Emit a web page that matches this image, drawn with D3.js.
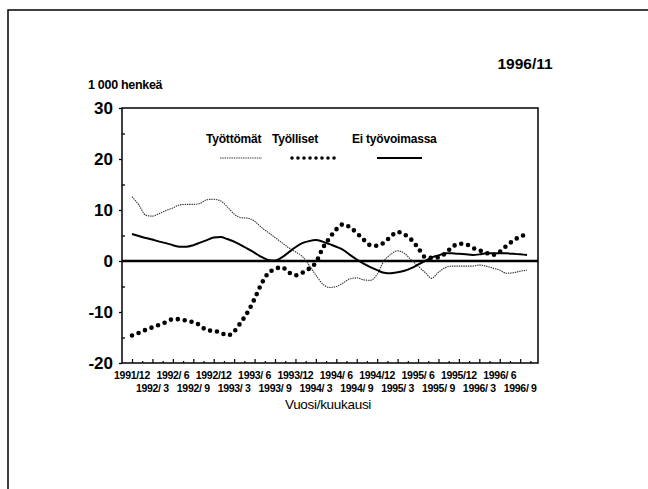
<!DOCTYPE html>
<html>
<head>
<meta charset="utf-8">
<script src="https://cdn.jsdelivr.net/npm/d3@7"></script>
<style>
  html, body { margin: 0; padding: 0; background: #fff; }
  svg { display: block; font-family: "Liberation Sans", Arial, sans-serif; }
</style>
</head>
<body>
<svg id="chart" width="648" height="489"></svg>
<script>
/* Työvoima: muutos vuoden takaisesta, 1 000 henkeä, kuukausittain 1991/12 -> */

const tickLabels = [
  '1991/12','1992/ 3','1992/ 6','1992/ 9','1992/12','1993/ 3','1993/ 6','1993/ 9','1993/12','1994/ 3',
  '1994/ 6','1994/ 9','1994/12','1995/ 3','1995/ 6','1995/ 9','1995/12','1996/ 3','1996/ 6','1996/ 9'
];
const yTicks = [30, 20, 10, 0, -10, -20];

const tyottomat = [
  12.6, 11.0, 9.0, 8.8, 9.3, 9.9, 10.4, 11.0, 11.1, 11.1,
  11.3, 12.0, 12.1, 11.8, 10.6, 9.2, 8.5, 8.4, 7.8, 6.6,
  5.6, 4.6, 3.6, 2.6, 1.8, 0.9, -0.8, -2.8, -4.5, -5.2,
  -5.0, -4.3, -3.5, -3.3, -3.7, -3.8, -2.6, 0.0, 1.3, 2.0,
  1.5, 0.2, -1.0, -2.2, -3.4, -2.2, -1.3, -1.0, -1.0, -1.0,
  -1.0, -0.8, -1.0, -1.4, -1.8, -2.4, -2.3, -2.0, -1.8
];
const tyolliset = [
  -14.6, -14.1, -13.5, -13.0, -12.5, -12.0, -11.4, -11.4, -11.7, -12.0,
  -12.6, -13.6, -13.7, -14.0, -14.6, -13.8, -12.0, -10.0, -7.4, -4.5,
  -2.4, -1.6, -1.2, -2.2, -2.8, -2.3, -1.5, -0.3, 2.5, 4.5,
  6.2, 7.2, 6.6, 5.5, 4.2, 3.1, 3.0, 3.6, 4.8, 5.7,
  5.2, 4.2, 2.6, 0.8, 0.6, 0.7, 1.5, 2.7, 3.4, 3.3,
  2.6, 2.1, 1.6, 1.2, 1.8, 3.0, 4.0, 4.8, 5.2
];
const eiTyovoimassa = [
  5.3, 4.9, 4.5, 4.2, 3.8, 3.5, 3.1, 2.8, 2.8, 3.1,
  3.6, 4.1, 4.6, 4.7, 4.3, 3.8, 3.1, 2.4, 1.6, 0.8,
  0.2, 0.1, 0.7, 1.7, 2.7, 3.5, 3.9, 4.1, 3.8, 3.3,
  2.8, 2.2, 1.2, 0.3, -0.5, -1.2, -1.8, -2.3, -2.4, -2.2,
  -1.9, -1.4, -0.7, 0.0, 0.7, 1.1, 1.5, 1.5, 1.4, 1.3,
  1.2, 1.3, 1.5, 1.5, 1.5, 1.5, 1.4, 1.3, 1.2
];

const series = [
  { name: 'Työttömät',      values: tyottomat,     stroke: '#333', width: 1.1, dash: '1.4,0.9', cap: 'butt' },
  { name: 'Työlliset',      values: tyolliset,     stroke: '#000', width: 4.6, dash: '0,7',     cap: 'round' },
  { name: 'Ei työvoimassa', values: eiTyovoimassa, stroke: '#000', width: 2,   dash: null,      cap: 'butt' }
];

const svg = d3.select('#chart');
const P = { left: 122, right: 538, top: 108, bottom: 363 };

// outer frame of the scanned page (right / bottom edges fall outside the picture)
svg.append('path')
  .attr('d', 'M8,489 L8,10 L648,10')
  .attr('fill', 'none').attr('stroke', '#000').attr('stroke-width', 1.5);

const x = d3.scaleLinear().domain([0, 58]).range([132, 527]);
const y = d3.scaleLinear().domain([-20, 30]).range([P.bottom, P.top]);

// ── y axis: major ticks out, minor ticks in ──
const yAxis = svg.append('g').attr('transform', `translate(${P.left},0)`)
  .call(d3.axisLeft(y).tickValues(yTicks).tickSize(3).tickPadding(6).tickFormat(d => String(d)));
yAxis.select('.domain').remove();
yAxis.selectAll('text')
  .attr('font-size', 17).attr('font-weight', 'bold').attr('fill', '#000')
  .attr('font-family', '"Liberation Sans", Arial, sans-serif');
yAxis.selectAll('line').attr('stroke-width', 1.3);

svg.append('g').attr('transform', `translate(${P.left},0)`)
  .call(d3.axisLeft(y).tickValues(d3.range(-15, 30, 10)).tickSize(-3).tickFormat(''))
  .call(g => g.select('.domain').remove())
  .selectAll('line').attr('stroke-width', 1.3);

// ── x axis: ticks pointing up into the plot ──
const xAxis = svg.append('g').attr('transform', `translate(0,${P.bottom})`)
  .call(d3.axisBottom(x).tickValues(d3.range(0, 59, 1.5)).tickSize(-4).tickFormat(''));
xAxis.select('.domain').remove();
xAxis.selectAll('.tick line')
  .attr('y2', d => (d % 3 === 0 ? -4 : -2))
  .attr('stroke-width', 1.2);

svg.append('g').selectAll('text').data(tickLabels).join('text')
  .attr('x', (d, i) => x(i * 3))
  .attr('y', (d, i) => (i % 2 === 0 ? 379 : 392))
  .attr('text-anchor', 'middle')
  .attr('font-size', 10.5).attr('font-weight', 'bold')
  .attr('letter-spacing', -0.3)
  .style('white-space', 'pre')
  .text(d => d);

// plot frame
svg.append('rect')
  .attr('x', P.left).attr('y', P.top)
  .attr('width', P.right - P.left).attr('height', P.bottom - P.top)
  .attr('fill', 'none').attr('stroke', '#000').attr('stroke-width', 1.5);

// zero line
svg.append('line')
  .attr('x1', P.left).attr('x2', P.right)
  .attr('y1', y(0)).attr('y2', y(0))
  .attr('stroke', '#000').attr('stroke-width', 2.6);

// ── series ──
const line = d3.line().x((d, i) => x(i)).y(d => y(d)).curve(d3.curveMonotoneX);
svg.append('g').selectAll('path').data(series).join('path')
  .attr('d', d => line(d.values))
  .attr('fill', 'none')
  .attr('stroke', d => d.stroke)
  .attr('stroke-width', d => d.width)
  .attr('stroke-dasharray', d => d.dash)
  .attr('stroke-linecap', d => d.cap);

// ── legend ──
const legendX = [206, 272, 352];
const legendLine = [[220, 262], [292, 335], [377, 422]];
const leg = svg.append('g').selectAll('g').data(series).join('g');
leg.append('text')
  .attr('x', (d, i) => legendX[i]).attr('y', 143)
  .attr('font-size', 12).attr('font-weight', 'bold').attr('letter-spacing', -0.2)
  .text(d => d.name);
leg.append('line')
  .attr('x1', (d, i) => legendLine[i][0]).attr('x2', (d, i) => legendLine[i][1])
  .attr('y1', 158).attr('y2', 158)
  .attr('stroke', d => d.stroke)
  .attr('stroke-width', (d, i) => (i === 1 ? 3.6 : d.width))
  .attr('stroke-dasharray', (d, i) => (i === 1 ? '0,6' : d.dash))
  .attr('stroke-linecap', d => d.cap);

// ── titles ──
svg.append('text').attr('x', 88).attr('y', 89)
  .attr('font-size', 12.5).attr('font-weight', 'bold').attr('letter-spacing', -0.3)
  .text('1 000 henkeä');
svg.append('text').attr('x', 525).attr('y', 69).attr('text-anchor', 'middle')
  .attr('font-size', 15.5).attr('font-weight', 'bold')
  .text('1996/11');
svg.append('text').attr('x', 328).attr('y', 409).attr('text-anchor', 'middle')
  .attr('font-size', 13.5).attr('letter-spacing', -0.3)
  .text('Vuosi/kuukausi');
</script>
</body>
</html>
